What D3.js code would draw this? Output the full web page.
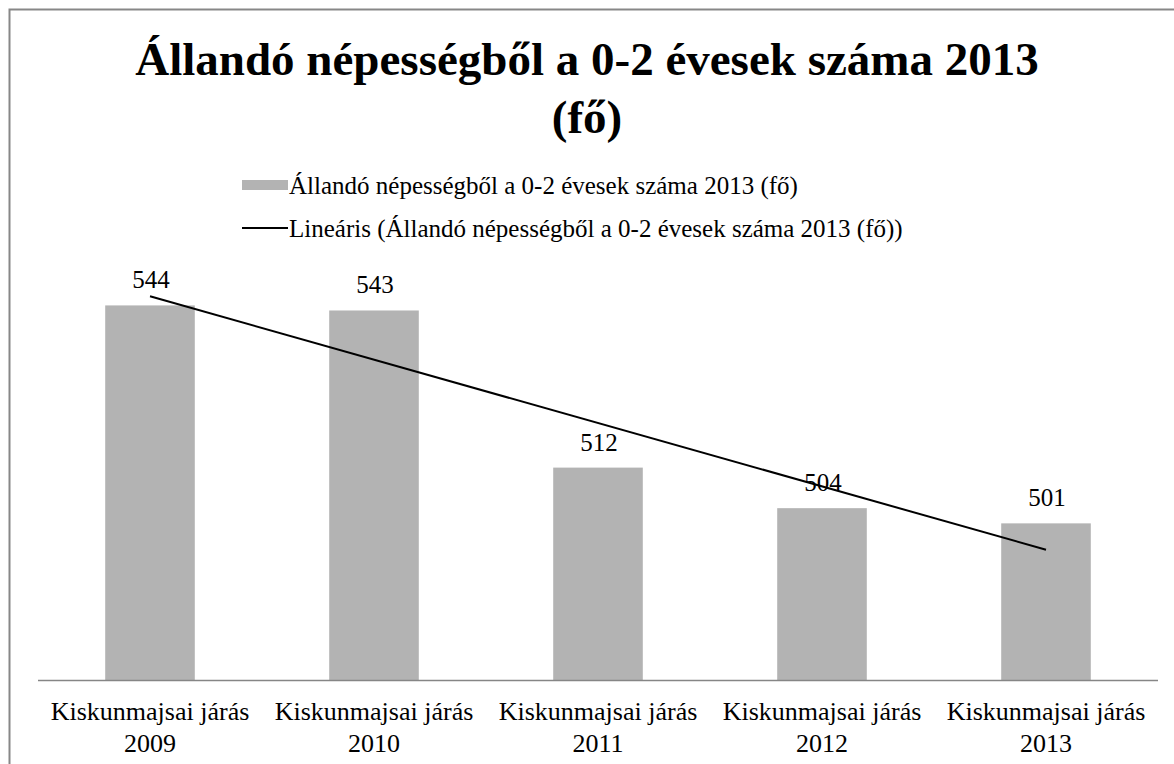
<!DOCTYPE html>
<html lang="hu">
<head>
    <meta charset="UTF-8"/>
    <title>Állandó népességből a 0-2 évesek száma 2013 (fő)</title>
    <script src="https://d3js.org/d3.v7.min.js" charset="utf-8"></script>

    <style type="text/css">
        body {
            margin: 0;
            background: #fff;
        }

        svg text {
            font-family: "Liberation Serif", "Times New Roman", serif;
            fill: #000;
        }

        .title {
            font-size: 47px;
            font-weight: bold;
        }

        .legend text,
        .label {
            font-size: 25px;
        }

        .axis text {
            font-size: 26px;
        }

        .axis path,
        .axis line {
            fill: none;
            stroke: #868686;
            stroke-width: 1.5px;
        }

        path.trend {
            fill: none;
            stroke: #000;
            stroke-width: 2px;
        }
    </style>
</head>
<body>
<svg width="1174" height="764"></svg>
<script>

    // data
    const region = "Kiskunmajsai járás";
    const years = ["2009", "2010", "2011", "2012", "2013"];
    const values = [544, 543, 512, 504, 501];
    const seriesName = "Állandó népességből a 0-2 évesek száma 2013 (fő)";
    const trendName = "Lineáris (" + seriesName + ")";
    const titleLines = ["Állandó népességből a 0-2 évesek száma 2013", "(fő)"];

    const serif = "'Liberation Serif', 'Times New Roman', serif";

    let svg = d3.select("svg"),
        width = +svg.attr("width"),
        height = +svg.attr("height");

    let margin = {left: 38, right: 16, top: 275, bottom: 83.5};

    // chart area border (bottom and right run off the picture)
    svg.append("rect")
        .attr("x", 9.5).attr("y", 9.5)
        .attr("width", width + 10).attr("height", height + 10)
        .attr("fill", "none")
        .attr("stroke", "#878787")
        .attr("stroke-width", 2);

    let x = d3.scaleBand()
        .domain(years)
        .range([margin.left, width - margin.right])
        .paddingInner(0.6)
        .paddingOuter(0.3);

    let y = d3.scaleLinear()
        .domain([470, 550])
        .range([height - margin.bottom, margin.top]);

    let data = years.map(function(yr, i) { return {year: yr, value: values[i]}; });

    // title
    let title = svg.append("text")
        .attr("class", "title")
        .attr("text-anchor", "middle");
    title.selectAll("tspan")
        .data(titleLines)
        .enter().append("tspan")
        .attr("x", width / 2)
        .attr("y", function(d, i) { return 75 + i * 58; })
        .text(function(d) { return d; });

    // legend
    let legend = svg.append("g").attr("class", "legend");
    legend.append("rect")
        .attr("x", 242).attr("y", 180)
        .attr("width", 46).attr("height", 10)
        .attr("fill", "#b3b3b3");
    legend.append("text")
        .attr("x", 289).attr("y", 194)
        .text(seriesName);
    legend.append("line")
        .attr("x1", 242).attr("x2", 288)
        .attr("y1", 228).attr("y2", 228)
        .attr("stroke", "#000").attr("stroke-width", 2);
    legend.append("text")
        .attr("x", 289).attr("y", 237)
        .text(trendName);

    // bars
    svg.selectAll(".bar")
        .data(data)
        .enter().append("rect")
        .attr("class", "bar")
        .attr("x", function(d) { return x(d.year); })
        .attr("y", function(d) { return y(d.value); })
        .attr("width", x.bandwidth())
        .attr("height", function(d) { return y.range()[0] - y(d.value); })
        .attr("fill", "#b3b3b3");

    // x axis with two-line labels
    let axis = svg.append("g")
        .attr("class", "axis")
        .attr("transform", "translate(0," + y.range()[0] + ")")
        .call(d3.axisBottom(x).tickSize(0).tickSizeOuter(0).tickPadding(0));
    axis.attr("font-family", serif).attr("font-size", 26);
    axis.select(".domain").attr("d", "M" + margin.left + ",0H" + (width - margin.right));
    axis.selectAll(".tick text").each(function(d) {
        let t = d3.select(this).text(null).attr("y", null).attr("dy", null);
        t.append("tspan").attr("x", 0).attr("y", 39).text(region);
        t.append("tspan").attr("x", 0).attr("y", 71).text(d);
    });

    // linear trend line (least squares over category index)
    let n = values.length,
        mx = d3.mean(values, function(d, i) { return i; }),
        my = d3.mean(values),
        sxy = d3.sum(values, function(d, i) { return (i - mx) * (d - my); }),
        sxx = d3.sum(values, function(d, i) { return (i - mx) * (i - mx); }),
        slope = sxy / sxx,
        icpt = my - slope * mx;

    svg.append("path")
        .datum([0, n - 1])
        .attr("class", "trend")
        .attr("d", d3.line()
            .x(function(i) { return x(years[i]) + x.bandwidth() / 2; })
            .y(function(i) { return y(icpt + slope * i); }));

    // data labels
    svg.selectAll(".label")
        .data(data)
        .enter().append("text")
        .attr("class", "label")
        .attr("text-anchor", "middle")
        .attr("x", function(d) { return x(d.year) + x.bandwidth() / 2 + 1; })
        .attr("y", function(d) { return y(d.value) - 17; })
        .text(function(d) { return d.value; });

</script>
</body>
</html>
